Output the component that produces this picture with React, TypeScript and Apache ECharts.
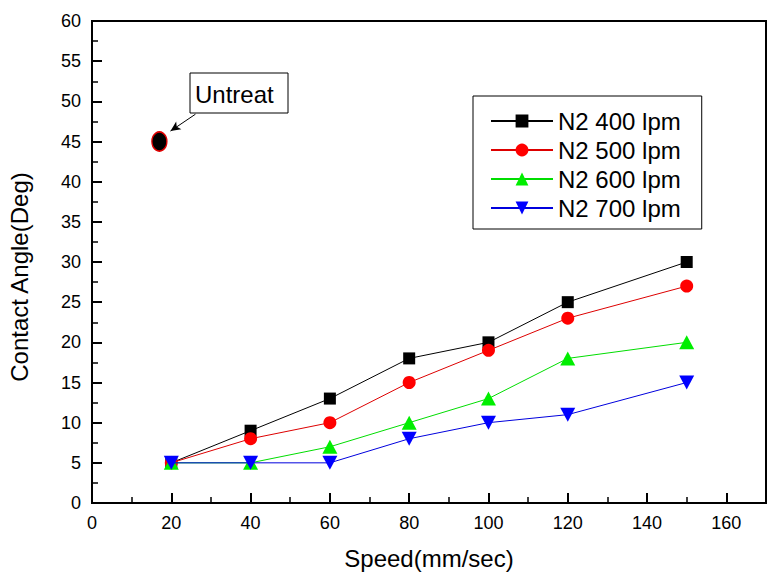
import { useEffect, useRef } from 'react';
import * as echarts from 'echarts';

const speeds = [20, 40, 60, 80, 100, 120, 150];
const seriesNames = ['N2 400 lpm', 'N2 500 lpm', 'N2 600 lpm', 'N2 700 lpm'];
const n2_400 = [5, 9, 13, 18, 20, 25, 30];
const n2_500 = [5, 8, 10, 15, 19, 23, 27];
const n2_600 = [5, 5, 7, 10, 13, 18, 20];
const n2_700 = [5, 5, 5, 8, 10, 11, 15];
const untreatPoint = [17, 45];
const untreatLabel = 'Untreat';
const arrowFrom = [26.1, 48.4];
const arrowTo = [19.8, 46.3];
const xTitle = 'Speed(mm/sec)';
const yTitle = 'Contact Angle(Deg)';

const FONT = '"Liberation Sans", Arial, sans-serif';

const seriesValues = [n2_400, n2_500, n2_600, n2_700];
const seriesColors = ['#000000', '#ff0000', '#00ee00', '#0000ff'];
const lineColors = ['#000000', '#dd0000', '#00dd00', '#0000dd'];
const seriesSymbols = ['rect', 'circle', 'triangle', 'triangle'];
const seriesSymbolSizes = [12, 13, [15, 14], [15, 14]];
const seriesRotate = [0, 0, 0, 180];

export default function App() {
  const ref = useRef<HTMLDivElement>(null);
  useEffect(() => {
    if (!ref.current) return;
    const chart = echarts.init(ref.current, undefined, { renderer: 'svg' });
    const lineSeries = seriesNames.map((name, k) => ({
      type: 'line',
      name,
      data: speeds.map((x, i) => [x, seriesValues[k][i]]),
      symbol: seriesSymbols[k],
      symbolSize: seriesSymbolSizes[k],
      symbolRotate: seriesRotate[k],
      showAllSymbol: true,
      lineStyle: { color: lineColors[k], width: 1 },
      itemStyle: { color: seriesColors[k], opacity: 1 },
      z: 2 + k,
    }));
    chart.setOption({
      animation: false,
      backgroundColor: '#fff',
      grid: {
        left: 92,
        right: 15,
        top: 21,
        bottom: 76,
        show: true,
        borderColor: '#000',
        borderWidth: 2,
        containLabel: false,
        outerBoundsMode: 'none',
      },
      legend: {
        orient: 'vertical',
        left: 473,
        top: 96,
        data: seriesNames,
        itemWidth: 62,
        itemHeight: 16,
        itemGap: 5,
        padding: [13, 21, 9, 17],
        borderColor: '#000',
        borderWidth: 1,
        backgroundColor: '#fff',
        textStyle: { fontSize: 24, lineHeight: 24, color: '#000', fontFamily: FONT },
      },
      xAxis: [
        {
          type: 'value',
          min: 0,
          max: 170,
          interval: 20,
          position: 'bottom',
          axisLine: { show: true, onZero: false, lineStyle: { color: '#000', width: 2 } },
          axisTick: { show: true, inside: true, length: 10, lineStyle: { color: '#000', width: 2 } },
          axisLabel: {
            color: '#000',
            fontSize: 18,
            fontFamily: FONT,
            margin: 11,
            showMaxLabel: false,
            formatter: (v: number) => (v > 160 ? '' : String(v)),
          },
          splitLine: { show: false },
          name: xTitle,
          nameLocation: 'middle',
          nameGap: 43,
          nameTextStyle: { fontSize: 24, color: '#000', fontFamily: FONT },
        },
        {
          type: 'value',
          min: 0,
          max: 170,
          interval: 10,
          position: 'bottom',
          axisLine: { show: false, onZero: false },
          axisTick: { show: true, inside: true, length: 6, lineStyle: { color: '#000', width: 1.5 } },
          axisLabel: { show: false },
          splitLine: { show: false },
        },
      ],
      yAxis: {
        type: 'value',
        min: 0,
        max: 60,
        interval: 5,
        axisLine: { show: true, onZero: false, lineStyle: { color: '#000', width: 2 } },
        axisTick: { show: true, inside: true, length: 10, lineStyle: { color: '#000', width: 2 } },
        minorTick: { show: true, splitNumber: 2, length: 6, lineStyle: { color: '#000', width: 1.5 } },
        axisLabel: { color: '#000', fontSize: 18, fontFamily: FONT, margin: 11 },
        splitLine: { show: false },
        minorSplitLine: { show: false },
      },
      series: [
        ...lineSeries,
        {
          type: 'scatter',
          name: untreatLabel,
          data: [untreatPoint],
          symbol: 'circle',
          symbolSize: [15, 19],
          itemStyle: { color: '#000', borderColor: '#e00000', borderWidth: 1.5, opacity: 1 },
          z: 6,
          markLine: {
            silent: true,
            symbol: ['none', 'arrow'],
            symbolSize: [7, 10],
            label: { show: false },
            lineStyle: { color: '#000', width: 1, type: 'solid' },
            data: [[{ coord: arrowFrom }, { coord: arrowTo }]],
          },
        },
      ],
      graphic: [
        {
          type: 'group',
          x: 190,
          y: 73,
          children: [
            {
              type: 'rect',
              shape: { x: 0, y: 0, width: 98, height: 40 },
              style: { fill: '#fff', stroke: '#000', lineWidth: 1 },
            },
            {
              type: 'text',
              x: 5,
              y: 21,
              style: {
                text: untreatLabel,
                fontSize: 24,
                fontFamily: FONT,
                fill: '#000',
                verticalAlign: 'middle',
              },
            },
          ],
        },
        {
          type: 'text',
          x: 19,
          y: 277,
          rotation: Math.PI / 2,
          style: {
            text: yTitle,
            fontSize: 24,
            fontFamily: FONT,
            fill: '#000',
            align: 'center',
            verticalAlign: 'middle',
          },
        },
      ],
    });
    return () => chart.dispose();
  }, []);
  return (
    <div
      ref={ref}
      style={{ position: 'fixed', left: 0, top: 0, width: 781, height: 579, background: '#fff' }}
    />
  );
}
